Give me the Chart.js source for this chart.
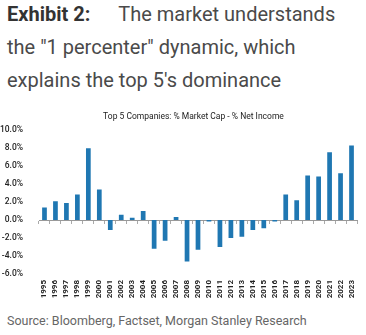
<!DOCTYPE html>
<html>
<head>
<meta charset="utf-8">
<script src="https://cdn.jsdelivr.net/npm/chart.js@4.4.0/dist/chart.umd.min.js"></script>
<style>
html,body{margin:0;padding:0;background:#fff;overflow:hidden;}
body{width:366px;height:335px;position:relative;font-family:Roboto,sans-serif;}
#head{position:absolute;left:7px;top:-2px;font-size:20px;line-height:33px;color:#4a4a4a;white-space:nowrap;}
#head b{color:#333;font-weight:700;margin-right:28px;}
#box{position:absolute;left:0;top:100px;width:387px;height:200px;}
#src{position:absolute;left:7px;top:313px;font-size:12.5px;color:#666;white-space:nowrap;}
</style>
</head>
<body>
<div id="head"><b>Exhibit 2:</b>The market understands<br>the "1 percenter" dynamic, which<br>explains the top 5's dominance</div>
<div id="box"><canvas id="chart"></canvas></div>
<div id="src">Source: Bloomberg, Factset, Morgan Stanley Research</div>
<script>
// years on the x axis
const years=["1995","1996","1997","1998","1999","2000","2001","2002","2003","2004","2005","2006","2007","2008","2009","2010","2011","2012","2013","2014","2015","2016","2017","2018","2019","2020","2021","2022","2023"];
// % market cap minus % net income, top 5 companies
const spread=[1.4,2.1,1.9,2.85,8.0,3.4,-1.1,0.6,0.25,1.0,-3.2,-2.3,0.35,-4.6,-3.3,-0.15,-3.0,-2.0,-1.85,-1.1,-0.9,-0.15,2.85,2.2,4.95,4.85,7.55,5.2,8.3];
// y axis range
const yMin=-6, yMax=10, yStep=2;

const ctx=document.getElementById("chart").getContext("2d");
new Chart(ctx,{
type:"bar",
data:{
labels:years,
datasets:[{
data:spread,
backgroundColor:"#1f77b2",
barPercentage:0.43,
categoryPercentage:1
}]
},
options:{
responsive:true,
maintainAspectRatio:false,
animation:false,
plugins:{
legend:{display:false},
tooltip:{enabled:false},
title:{
display:true,
text:"Top 5 Companies: % Market Cap - % Net Income",
color:"#222",
font:{family:"Roboto",size:8.5,weight:"normal"},
padding:{top:12,bottom:8}
}
},
scales:{
x:{
position:"bottom",
grid:{display:false,drawTicks:false},
border:{display:false},
ticks:{
color:"#222",
font:{family:"Roboto",size:8,weight:"bold"},
minRotation:90,maxRotation:90,
autoSkip:false,
padding:6
},
afterFit:s=>{s.height=26;}
},
// zero line with small tick marks
x2:{
type:"category",
position:{y:0},
offset:true,
ticks:{display:false},
grid:{drawOnChartArea:false,drawTicks:true,tickLength:3,color:"#aaa",offset:true},
border:{display:true,color:"#999",width:1}
},
y:{
min:yMin,max:yMax,
grid:{display:false},
border:{display:false},
ticks:{
stepSize:yStep,
color:"#222",
padding:8,
font:{family:"Roboto",size:8.5,weight:"500"},
callback:v=>v.toFixed(1)+"%"
},
afterFit:s=>{s.width=39;}
},
// spacer on the right
yR:{
position:"right",
display:true,
grid:{display:false},
border:{display:false},
ticks:{display:false},
afterFit:s=>{s.width=30;}
}
}
}
});
</script>
</body>
</html>
